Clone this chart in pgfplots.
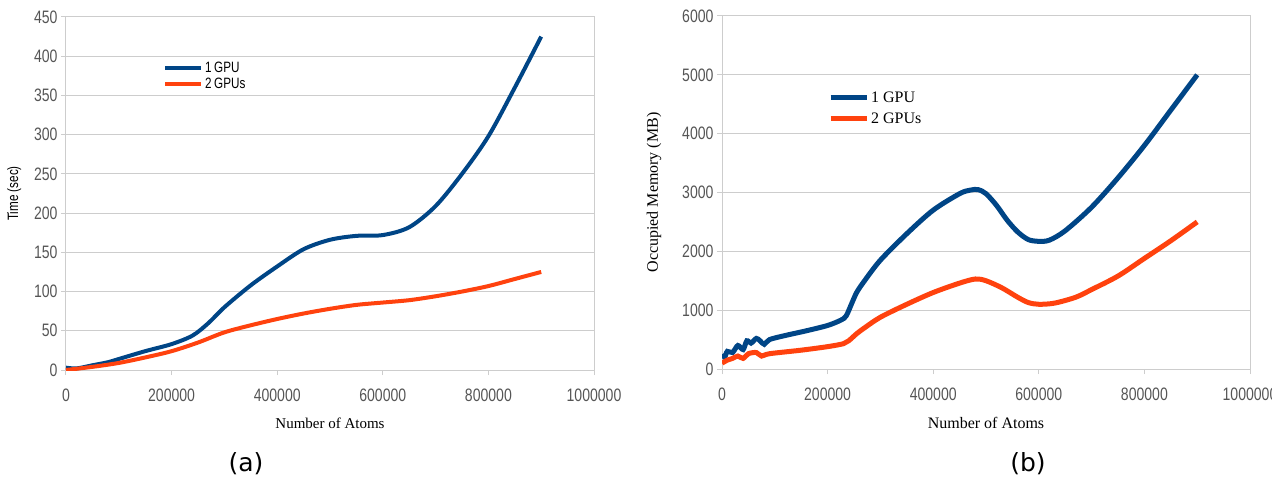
\documentclass[border=0pt]{standalone}
\usepackage{pgfplots}
\pgfplotsset{compat=1.18}
\usepackage{fontspec}
\setmainfont{Liberation Serif}
\newfontfamily\lsans[FakeStretch=0.78]{Liberation Sans}
\newfontfamily\dejavu{DejaVu Sans}
\definecolor{lblue}{HTML}{004586}
\definecolor{lorange}{HTML}{FF420E}
\definecolor{gridc}{HTML}{CDCDCD}
\definecolor{tickc}{HTML}{555555}
\pgfplotsset{
  common/.style={
    scale only axis, width=528pt, height=353pt,
    anchor=south west,
    xmin=0, xmax=1000000, ymin=0,
    xtick={0,200000,400000,600000,800000,1000000},
    scaled x ticks=false, scaled y ticks=false,
    /pgf/number format/assume math mode=true,
    xticklabel style={/pgf/number format/fixed,/pgf/number format/1000 sep={}, yshift=-10pt},
    yticklabel style={/pgf/number format/fixed,/pgf/number format/1000 sep={}},
    ticklabel style={font=\lsans\fontsize{18}{18}\selectfont, text=tickc},
    axis line style={gridc, line width=1pt},
    ymajorgrids, major grid style={gridc, line width=1pt},
    tick style={gridc, line width=1pt},
    tick align=outside, major tick length=5pt,
    xtick pos=bottom, ytick pos=left,
    legend cell align=left,
    legend image code/.code={\draw[#1] (0pt,0pt) -- (36pt,0pt);},
  },
}
\begin{document}
\begin{tikzpicture}
\useasboundingbox (0pt,0pt) rectangle (1272pt,-478pt);
% (a)
\begin{axis}[common, at={(66pt,-370pt)}, ymax=450,
  ytick={0,50,...,450},
  xlabel={Number of Atoms}, xlabel style={font=\fontsize{15}{15}\selectfont, yshift=-10pt},
  ylabel={Time (sec)}, ylabel style={font=\lsans\fontsize{15}{15}\selectfont, yshift=6pt},
  legend style={at={(0.178,0.883)}, anchor=north west, draw=none, fill=none,
    font=\lsans\fontsize{15}{15}\selectfont, row sep=0pt},
]
\addplot[lblue, line width=4pt, smooth] coordinates {
(0,3) (20000,2) (50000,6) (80000,10) (100000,14) (150000,24) (200000,33)
(240000,44) (270000,60) (300000,80) (350000,108) (400000,132) (450000,154)
(500000,166) (550000,171) (600000,172) (650000,182) (700000,209) (750000,250)
(800000,298) (850000,360) (900000,425)};
\addlegendentry{1\,GPU}
\addplot[lorange, line width=4pt, smooth] coordinates {
(0,0) (50000,4) (100000,9) (150000,16) (200000,24) (250000,35) (300000,48)
(350000,57) (400000,65) (450000,72) (500000,78) (550000,83) (600000,86)
(650000,89) (700000,94) (750000,100) (800000,107) (850000,116) (900000,125)};
\addlegendentry{2\,GPUs}
\end{axis}
% (b)
\begin{axis}[common, at={(722pt,-369pt)}, ymax=6000,
  ytick={0,1000,...,6000},
  xlabel={Number of Atoms}, xlabel style={font=\fontsize{16}{16}\selectfont, yshift=-10pt},
  ylabel={Occupied Memory (MB)}, ylabel style={font=\fontsize{16}{16}\selectfont, yshift=14pt},
  legend style={at={(0.195,0.798)}, anchor=north west, draw=none, fill=none,
    font=\fontsize{16}{16}\selectfont, row sep=5pt},
]
\addplot[lblue, line width=5pt, smooth, tension=0.5] coordinates {
(0,250) (5000,200) (10000,300) (20000,280) (30000,400) (40000,330) (47000,480)
(55000,440) (65000,520) (72000,480) (80000,420) (90000,500) (120000,570)
(160000,650) (200000,740) (225000,830) (235000,900) (245000,1100) (255000,1300)
(270000,1500) (300000,1850) (350000,2300) (400000,2700) (450000,2980)
(470000,3040) (485000,3050) (500000,2980) (520000,2780) (540000,2530)
(560000,2330) (580000,2200) (600000,2170) (620000,2190) (650000,2350)
(700000,2750) (750000,3250) (800000,3800) (850000,4400) (900000,5000)};
\addlegendentry{1 GPU}
\addplot[lorange, line width=5pt, smooth, tension=0.5] coordinates {
(0,100) (10000,150) (20000,180) (30000,220) (40000,180) (50000,260) (65000,280)
(75000,220) (90000,260) (150000,320) (200000,380) (230000,430) (240000,480)
(255000,600) (270000,700) (300000,880) (350000,1100) (400000,1300)
(450000,1460) (480000,1530) (500000,1500) (530000,1380) (560000,1220)
(580000,1130) (600000,1100) (630000,1120) (670000,1220) (700000,1350)
(750000,1580) (800000,1880) (850000,2180) (900000,2500)};
\addlegendentry{2 GPUs}
\end{axis}
\node[font=\dejavu\fontsize{25}{25}\selectfont] at (246pt,-464pt) {(a)};
\node[font=\dejavu\fontsize{25}{25}\selectfont] at (1028pt,-464pt) {(b)};
\end{tikzpicture}
\end{document}
